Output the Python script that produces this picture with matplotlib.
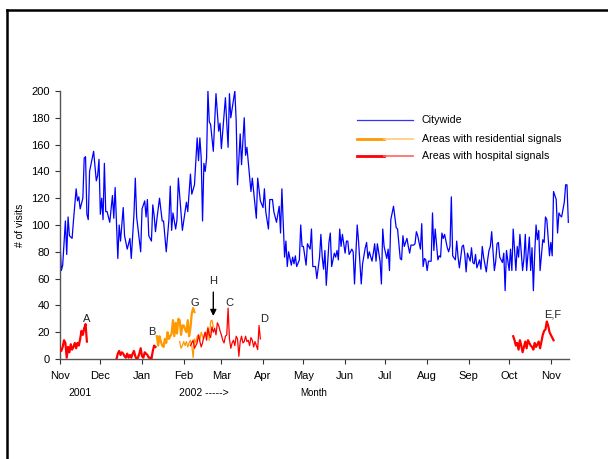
import numpy as np
import matplotlib
matplotlib.use("Agg")
import matplotlib.pyplot as plt
from matplotlib.lines import Line2D

plt.rcParams['font.family'] = ['Liberation Sans', 'DejaVu Sans']

START = np.datetime64('2001-11-01')

# ---- Citywide daily visits (day offset from 2001-11-01, value) ----
city_day = [0, 1, 2, 4, 5, 6, 7, 9, 10, 12, 13, 14, 15, 17, 18, 19, 20, 21, 22, 24, 25, 27, 28, 29, 30,
            31, 32, 33, 34, 35, 37, 39, 40, 41, 43, 44, 45, 47, 48, 50, 52, 53, 55, 56, 57, 60, 61, 63,
            64, 65, 66, 68, 69, 70, 71, 72, 74, 76, 77, 79, 81, 82, 83, 84, 86, 87, 88, 91, 94, 95, 97,
            98, 100, 102, 103, 104, 105, 106, 107, 108, 109, 110, 111, 112, 114, 116, 118, 119, 120, 123,
            125, 126, 127, 130, 131, 132, 134, 135, 137, 138, 139, 142, 143, 146, 147, 149, 151, 152, 153,
            155, 156,
            158, 159, 161, 163, 164, 165, 167, 168, 169, 170, 172, 173, 174, 175, 176, 178, 179, 180, 181,
            183, 184, 186, 187, 188, 190, 191, 193, 194, 195, 196, 197, 198, 200, 201, 202, 204, 205, 206,
            207, 208, 209, 210, 212, 213, 214, 215, 217, 218, 219, 221, 222, 224, 225, 227, 228, 229, 230,
            232, 233, 234, 235, 236, 238, 239, 240, 241, 243, 244, 245, 246, 248, 249, 250, 251, 253, 254,
            255, 256, 258, 259, 260, 261, 263, 264, 265, 266, 268, 269, 270, 271, 272, 273, 274, 276, 277,
            278, 279, 281, 282, 283, 284, 285, 286, 288, 289, 290, 291, 292, 294, 295, 296, 297, 299, 300,
            301, 302, 303, 305, 306, 307, 308, 309, 310, 312, 313, 314, 315, 317, 318, 319, 320, 321, 323,
            324, 325, 326, 327, 329, 330, 331, 332, 334, 335, 336, 337, 339, 340, 341, 342, 344, 345, 346,
            347, 349, 350, 351, 352, 353, 354, 355, 356, 357, 359, 360, 361, 362, 364, 365, 366, 367, 369,
            370, 371, 372, 373, 375, 376, 377, 378]
city_val = [88, 66, 70, 103, 78, 106, 92, 90, 103, 127, 118, 121, 112, 120, 150, 151, 108, 104, 140, 150, 155,
            133, 137, 149, 108, 120, 104, 146, 110, 110, 102, 122, 105, 128, 75, 100, 88, 113, 92, 82, 90,
            75, 108, 135, 106, 80, 112, 118, 106, 119, 92, 88, 115, 107, 95, 104, 120, 103, 103, 80, 104,
            129, 96, 109, 97, 104, 135, 96, 117, 110, 138, 123, 130, 165, 148, 165, 150, 103, 146, 140, 150,
            200, 177, 175, 155, 198, 170, 176, 157, 195, 158, 198, 180, 200, 178, 130, 168, 145, 180, 152,
            158, 125, 135, 105, 135, 118, 113, 127, 110, 97, 119,
            119, 110, 102, 114, 94, 127, 76, 88, 69, 80, 70, 76, 71, 77, 69, 74, 100, 84, 84,
            70, 86, 82, 97, 69, 69, 60, 76, 93, 76, 67, 81, 55, 87, 94, 69, 79, 76, 81,
            74, 97, 84, 93, 79, 88, 88, 78, 82, 80, 56, 100, 88, 56, 71, 83, 87, 75, 80,
            73, 79, 86, 73, 86, 73, 56, 97, 84, 75, 82, 66, 104, 114, 106, 98, 97, 75, 74,
            92, 84, 90, 84, 79, 85, 85, 86, 95, 92, 82, 101, 69, 75, 74, 66, 73, 73, 109,
            81, 97, 74, 77, 76, 94, 90, 93, 83, 80, 84, 121, 77, 74, 88, 76, 68, 84, 85,
            78, 65, 79, 73, 83, 72, 71, 78, 68, 74, 67, 84, 76, 65, 74, 81, 84, 95, 66,
            73, 86, 87, 76, 72, 79, 51, 81, 66, 82, 66, 97, 66, 84, 76, 93, 66, 75, 93,
            66, 91, 66, 83, 51, 79, 100, 89, 96, 66, 89, 87, 106, 104, 77, 87, 77, 125, 119,
            94, 109, 107, 106, 117, 130, 130, 102]

# ---- Hospital-signal areas (red) ----
hospA_start = 0
hospA_val = [8, 6, 9, 14, 12, 1, 9, 5, 11, 7, 9, 12, 8, 12, 10, 15, 21, 18, 23, 26, 13]
hospB_start = 42
hospB_val = [0, 4, 6, 3, 5, 4, 2, 1, 4, 1, 3, 1, 4, 6, 2, 0, 1, 4, 8, 2, 1, 5, 4, 3, 1, 1, 0, 6, 10, 9]
hospCD_start = 97
hospCD_val = [10, 12, 14, 8, 10, 12, 18, 13, 9, 12, 17, 20, 14, 23, 18, 16, 24, 20, 23, 18, 27, 25, 21, 18,
              14, 12, 17, 18, 38, 15, 8, 12, 14, 10, 17, 15, 2, 13, 17, 12, 13, 17, 13, 14, 10, 16, 14, 9,
              13, 10, 7, 25, 15]
hospEF_start = 337
hospEF_val = [17, 14, 10, 12, 7, 14, 10, 5, 9, 13, 8, 14, 12, 10, 9, 7, 12, 9, 11, 13, 8, 13, 18, 21, 22,
              28, 25, 20, 18, 16, 14]

# ---- Residential-signal areas (orange) ----
resB_start = 72
resB_val = [17, 10, 17, 13, 10, 9, 15, 12, 20, 15, 17, 19, 29, 17, 27, 19, 30, 29, 18, 25, 25, 22, 20, 29,
            17, 23, 34, 38, 35]
resH_start = 89
resH_val = [13, 8, 10, 13, 10, 13, 9, 12, 14, 10, 1, 15, 12, 17, 18, 14, 20, 17, 15, 20, 18, 24, 14, 28,
            29, 24]

# annotations: (label, day, value)
ann_labels = ['A', 'B', 'G', 'C', 'D', 'E,F']
ann_days = [19.5, 68.5, 99.5, 126.5, 151.5, 366.5]
ann_vals = [30, 20, 42, 42, 30, 33.5]

month_labels = ['Nov', 'Dec', 'Jan', 'Feb', 'Mar', 'Apr', 'May', 'Jun', 'Jul', 'Aug', 'Sep', 'Oct', 'Nov']
month_starts = ['2001-11-01', '2001-12-01', '2002-01-01', '2002-02-01', '2002-03-01', '2002-04-01',
                '2002-05-01', '2002-06-01', '2002-07-01', '2002-08-01', '2002-09-01', '2002-10-01',
                '2002-11-01']


def to_dates(days):
    return START + np.array(days, dtype='timedelta64[D]')


def seq(start, vals):
    return to_dates(np.arange(start, start + len(vals))), vals


W, H = 608, 459
fig = plt.figure(figsize=(W / 100, H / 100), dpi=100)
ax = fig.add_axes([60 / W, 1 - 359 / H, (569 - 60) / W, (359 - 91) / H])

BLUE = '#0000FF'
RED = '#FF0000'
ORANGE = '#FF9900'

ax.plot(to_dates(city_day), city_val, color=BLUE, lw=0.9, zorder=2)

x, y = seq(hospA_start, hospA_val)
ax.plot(x, y, color=RED, lw=1.6, zorder=3)
x, y = seq(hospB_start, hospB_val)
ax.plot(x, y, color=RED, lw=1.6, zorder=3)
x, y = seq(resB_start, resB_val)
ax.plot(x, y, color=ORANGE, lw=1.6, zorder=3)
x, y = seq(resH_start, resH_val)
ax.plot(x, y, color=ORANGE, lw=0.9, zorder=3)
x, y = seq(hospCD_start, hospCD_val)
ax.plot(x, y, color=RED, lw=0.9, zorder=4)
x, y = seq(hospEF_start, hospEF_val)
ax.plot(x, y, color=RED, lw=1.6, zorder=3)

for lab, d, v in zip(ann_labels, ann_days, ann_vals):
    ax.text(START + np.timedelta64(int(round(d)), 'D'), v, lab, fontsize=8,
            ha='center', va='center', color='#222222')

# H arrow
hday = to_dates([114])[0]
ax.annotate('', xy=(hday, 30), xytext=(hday, 52),
            arrowprops=dict(arrowstyle='-|>', color='black', lw=1.0, mutation_scale=9))
ax.text(hday, 58, 'H', fontsize=8, ha='center', va='center', color='#222222')

ax.set_ylim(0, 200)
ax.set_xlim(to_dates([0])[0], to_dates([378])[0] + np.timedelta64(12, 'h'))
ax.set_yticks(np.arange(0, 201, 20))
ax.set_xticks([np.datetime64(m) for m in month_starts])
ax.set_xticklabels(month_labels)
ax.tick_params(axis='both', labelsize=8, direction='out', length=3.5, width=0.8, colors='#333333',
               labelcolor='black', pad=4)
ax.tick_params(axis='x', pad=5)
for s in ['top', 'right']:
    ax.spines[s].set_visible(False)
for s in ['left', 'bottom']:
    ax.spines[s].set_color('#555555')
    ax.spines[s].set_linewidth(1.0)
ax.set_ylabel('# of visits', fontsize=7.5)
ax.yaxis.set_label_coords(-0.0688, 0.5)

fig.text(80 / W, 1 - 393 / H, '2001', fontsize=7.5, ha='center', va='center')
fig.text(204 / W, 1 - 393 / H, '2002 ----->', fontsize=7.5, ha='center', va='center')
fig.text(314 / W, 1 - 393 / H, 'Month', fontsize=7, ha='center', va='center')

# legend drawn manually
lx0, lmid, lx1 = 357 / W, 384 / W, 413 / W
rows = [(120, 'Citywide', BLUE, BLUE, 0.9, 0.9),
        (139, 'Areas with residential signals', ORANGE, '#FFC873', 2.0, 1.2),
        (156, 'Areas with hospital signals', RED, '#FF6464', 2.0, 1.2)]
for yy, lab, c1, c2, w1, w2 in rows:
    fy = 1 - yy / H
    if c1 == c2:
        fig.add_artist(Line2D([lx0, lx1], [fy, fy], color=c1, lw=w1, alpha=0.8))
    else:
        fig.add_artist(Line2D([lx0, lmid], [fy, fy], color=c1, lw=w1))
        fig.add_artist(Line2D([lmid, lx1], [fy, fy], color=c2, lw=w2))
    fig.text(422 / W, fy, lab, fontsize=7.7, ha='left', va='center')

# outer frame (partially visible)
fig.add_artist(Line2D([6.5 / W, 1.0], [1 - 9.5 / H, 1 - 9.5 / H], color='black', lw=1.8))
fig.add_artist(Line2D([6.5 / W, 6.5 / W], [0.0, 1 - 9.5 / H], color='black', lw=1.8))

fig.savefig('out.png', dpi=100, facecolor='white')
